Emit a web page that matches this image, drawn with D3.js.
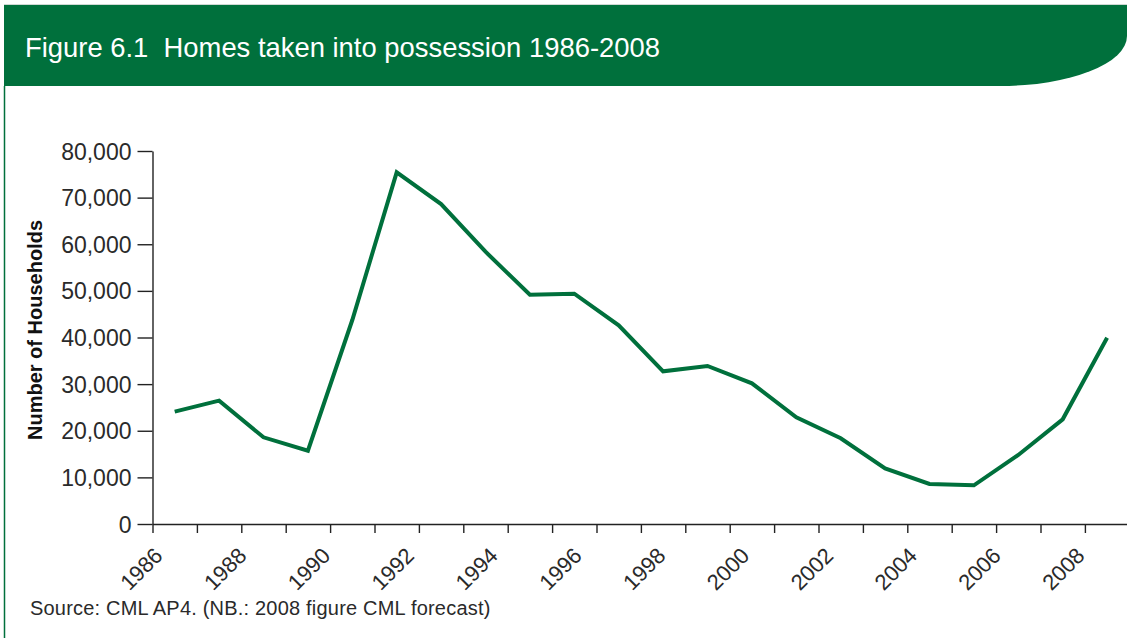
<!DOCTYPE html>
<html>
<head>
<meta charset="utf-8">
<script src="https://cdn.jsdelivr.net/npm/d3@7"></script>
<style>
  html, body { margin: 0; padding: 0; background: #fff; }
  svg { display: block; font-family: "Liberation Sans", Arial, Helvetica, sans-serif; }
</style>
</head>
<body>
<svg id="chart" width="1127" height="638"></svg>
<script>
// ---- data ----
const titleText = "Figure 6.1  Homes taken into possession 1986-2008";
const yTitle = "Number of Households";
const sourceText = "Source: CML AP4. (NB.: 2008 figure CML forecast)";
const periods = [1986, 1987, 1988, 1989, 1990, 1991, 1992, 1993, 1994, 1995, 1996,
                 1997, 1998, 1999, 2000, 2001, 2002, 2003, 2004, 2005, 2006, 2007];
const households = [24100, 26450, 18590, 15730, 43750, 75430, 68630, 58400, 49180, 49390, 42610,
                    32740, 33890, 30170, 22880, 18380, 11940, 8580, 8290, 14800, 22450, 39960];
const yTicks = [0, 10000, 20000, 30000, 40000, 50000, 60000, 70000, 80000];
const xTickLabels = ["1986", "1988", "1990", "1992", "1994", "1996", "1998", "2000", "2002", "2004", "2006", "2008"];

const green = "#00703c";
const svg = d3.select("#chart");

// ---- header ----
svg.append("line").attr("x1", 4).attr("x2", 1127).attr("y1", 4.5).attr("y2", 4.5)
  .attr("stroke", "#cfd8d3").attr("stroke-width", 1);
svg.append("path")
  .attr("d", "M4,5 H1127 V36 A127,50 0 0 1 1000,86 H4 Z")
  .attr("fill", green);
svg.append("text").attr("x", 25).attr("y", 56.5)
  .attr("fill", "#fff").attr("font-size", 27.4).style("white-space", "pre")
  .text(titleText);
// left border
svg.append("line").attr("x1", 4.5).attr("x2", 4.5).attr("y1", 86).attr("y2", 638)
  .attr("stroke", green).attr("stroke-width", 1.5);

// ---- scales ----
const y = d3.scaleLinear().domain([0, 80000]).range([524, 151]);
const x = d3.scaleLinear().domain([0, 22]).range([152.5, 152.5 + 22 * 44.4]);
const xLab = d3.scalePoint().domain(xTickLabels).range([163, 1085]);

// ---- y axis ----
const yAxis = svg.append("g").attr("transform", "translate(152.5,0)")
  .call(d3.axisLeft(y).tickValues(yTicks).tickSize(15).tickSizeOuter(0).tickPadding(6)
        .tickFormat(d3.format(",")));
yAxis.select(".domain").attr("stroke", "#222").attr("stroke-width", 1.4);
yAxis.selectAll(".tick line").attr("stroke", "#222").attr("stroke-width", 1.4);
yAxis.selectAll(".tick text")
  .attr("font-size", 23).attr("fill", "#2a2a2a")
  .attr("font-family", "'Liberation Sans', Arial, sans-serif")
  .attr("dy", "0.35em");

// ---- x axis ----
const xAxis = svg.append("g").attr("transform", "translate(0,524)")
  .call(d3.axisBottom(x).tickValues(d3.range(0, 22)).tickSize(9).tickSizeOuter(0).tickFormat(""));
xAxis.select(".domain").attr("stroke", "#222").attr("stroke-width", 1.4);
xAxis.selectAll(".tick line").attr("stroke", "#222").attr("stroke-width", 1.4);

svg.append("g").selectAll("text").data(xTickLabels).join("text")
  .attr("transform", d => `translate(${xLab(d) + 1},557) rotate(-45)`)
  .attr("text-anchor", "end")
  .attr("font-size", 22).attr("fill", "#2a2a2a")
  .text(d => d);

// ---- axis title ----
svg.append("text")
  .attr("transform", "translate(42,330) rotate(-90)")
  .attr("text-anchor", "middle").attr("font-weight", "bold").attr("font-size", 20)
  .attr("fill", "#111")
  .text(yTitle);

// ---- line ----
const line = d3.line()
  .x((d, i) => x(i + 0.5))
  .y(d => y(d));
svg.append("path").datum(households)
  .attr("d", line)
  .attr("fill", "none").attr("stroke", green).attr("stroke-width", 4)
  .attr("stroke-linejoin", "miter").attr("stroke-linecap", "butt");

// ---- source ----
svg.append("text").attr("x", 30).attr("y", 615)
  .attr("font-size", 20).attr("fill", "#2a2a2a").style("letter-spacing", "0.2px")
  .text(sourceText);
</script>
</body>
</html>
